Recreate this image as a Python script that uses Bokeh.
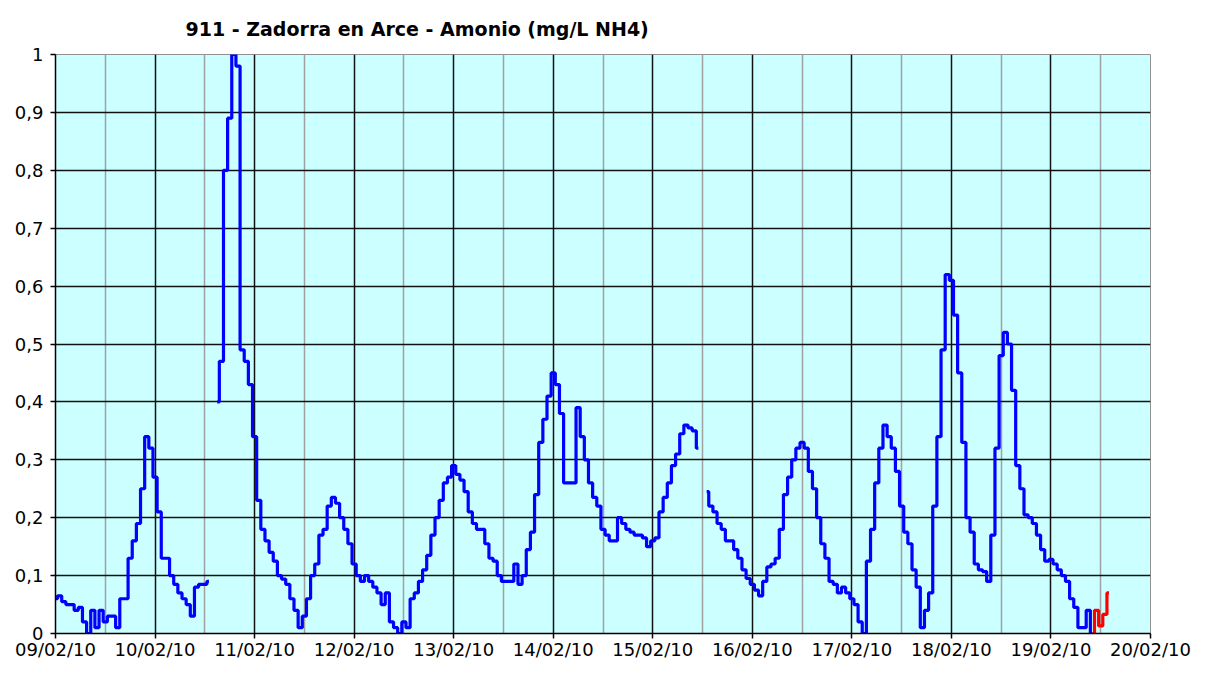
import numpy as np
from bokeh.plotting import figure
from bokeh.models import FixedTicker, Range1d, Title
from bokeh.embed import file_html
from bokeh.resources import INLINE

TITLE = "911 - Zadorra en Arce - Amonio (mg/L NH4)"

# x tick labels, one per day (x axis in days from 09/02/10 00:00)
day_labels = ["09/02/10", "10/02/10", "11/02/10", "12/02/10", "13/02/10", "14/02/10",
              "15/02/10", "16/02/10", "17/02/10", "18/02/10", "19/02/10", "20/02/10"]
y_ticks = [0, 0.1, 0.2, 0.3, 0.4, 0.5, 0.6, 0.7, 0.8, 0.9, 1]
y_labels = ["0", "0,1", "0,2", "0,3", "0,4", "0,5", "0,6", "0,7", "0,8", "0,9", "1"]

# hourly ammonium readings (mg/L NH4) starting 09/02/10 00:00; None = gap
blue_values = [
    # 09/02
    0.06, 0.065, 0.055, 0.05, 0.05, 0.04, 0.045, 0.02, 0.0, 0.04, 0.01, 0.04,
    0.02, 0.03, 0.03, 0.01, 0.06, 0.06, 0.13, 0.16, 0.19, 0.25, 0.34, 0.32,
    # 10/02
    0.27, 0.21, 0.13, 0.13, 0.10, 0.085, 0.07, 0.06, 0.05, 0.03, 0.08, 0.085,
    0.085, 0.09, None, 0.40, 0.47, 0.80, 0.89, 1.0, 0.98, 0.49, 0.47, 0.43,
    # 11/02
    0.34, 0.23, 0.18, 0.16, 0.14, 0.125, 0.10, 0.094, 0.085, 0.06, 0.04, 0.01,
    0.03, 0.06, 0.10, 0.12, 0.17, 0.18, 0.22, 0.235, 0.225, 0.20, 0.18, 0.155,
    # 12/02
    0.12, 0.10, 0.09, 0.10, 0.09, 0.08, 0.07, 0.05, 0.07, 0.02, 0.01, 0.0,
    0.02, 0.01, 0.06, 0.07, 0.09, 0.11, 0.135, 0.17, 0.20, 0.23, 0.26, 0.27,
    # 13/02
    0.29, 0.275, 0.265, 0.245, 0.21, 0.19, 0.18, 0.18, 0.155, 0.13, 0.125, 0.10,
    0.09, 0.09, 0.09, 0.12, 0.085, 0.10, 0.145, 0.175, 0.24, 0.33, 0.37, 0.41,
    # 14/02
    0.45, 0.43, 0.38, 0.26, 0.26, 0.26, 0.39, 0.34, 0.30, 0.26, 0.235, 0.22,
    0.18, 0.17, 0.16, 0.16, 0.20, 0.19, 0.18, 0.175, 0.17, 0.17, 0.165, 0.15,
    # 15/02
    0.16, 0.165, 0.21, 0.235, 0.26, 0.29, 0.31, 0.345, 0.36, 0.355, 0.35, 0.32,
    None, 0.245, 0.22, 0.21, 0.19, 0.18, 0.16, 0.16, 0.145, 0.13, 0.11, 0.095,
    # 16/02
    0.085, 0.075, 0.065, 0.09, 0.115, 0.12, 0.13, 0.18, 0.24, 0.27, 0.30, 0.32,
    0.33, 0.32, 0.28, 0.25, 0.20, 0.155, 0.13, 0.09, 0.085, 0.07, 0.08, 0.07,
    # 17/02
    0.06, 0.05, 0.02, 0.0, 0.125, 0.18, 0.26, 0.32, 0.36, 0.34, 0.32, 0.28,
    0.22, 0.175, 0.155, 0.11, 0.08, 0.01, 0.04, 0.07, 0.22, 0.34, 0.49, 0.62,
    # 18/02
    0.61, 0.55, 0.45, 0.33, 0.20, 0.175, 0.12, 0.11, 0.107, 0.09, 0.17, 0.32,
    0.48, 0.52, 0.50, 0.42, 0.29, 0.25, 0.205, 0.20, 0.19, 0.17, 0.145, 0.125,
    # 19/02
    0.128, 0.12, 0.11, 0.10, 0.09, 0.06, 0.045, 0.01, 0.01, 0.04, 0.0,
]
# last readings (shown in red), hourly from hour 250
red_start_hour = 250
red_values = [0.0, 0.04, 0.013, 0.033, 0.07]

blue_y = np.array(blue_values, dtype=float)
blue_x = np.arange(len(blue_y)) / 24.0
red_y = np.array(red_values, dtype=float)
red_x = (red_start_hour + np.arange(len(red_y))) / 24.0

n_days = len(day_labels) - 1
day_ticks = list(range(len(day_labels)))
half_ticks = [d + 0.5 for d in range(n_days)]

FONT = "DejaVu Sans"

p = figure(width=1191, height=662, output_backend="svg", toolbar_location=None,
           x_range=Range1d(0, n_days), y_range=Range1d(0, 1),
           min_border_left=55, min_border_right=41, min_border_top=54, min_border_bottom=29)

p.add_layout(Title(text=TITLE, align="left", offset=130, standoff=26, vertical_align="top",
                   text_font=FONT, text_font_size="19px", text_font_style="bold",
                   text_color="black"), "above")

p.background_fill_color = "#CCFFFF"
p.border_fill_color = "white"
p.outline_line_color = "#909090"
p.outline_line_width = 1

# x axis
p.xaxis.ticker = FixedTicker(ticks=day_ticks, minor_ticks=half_ticks)
p.xaxis.major_label_overrides = {d: lbl for d, lbl in zip(day_ticks, day_labels)}
p.xaxis.major_tick_out = 5
p.xaxis.major_tick_in = 0
p.xaxis.minor_tick_out = 0
p.xaxis.minor_tick_in = 0
p.xaxis.major_label_standoff = 0

# y axis
p.yaxis.ticker = FixedTicker(ticks=y_ticks)
p.yaxis.major_label_overrides = {t: lbl for t, lbl in zip(y_ticks, y_labels)}
p.yaxis.major_tick_out = 5
p.yaxis.major_tick_in = 0
p.yaxis.minor_tick_out = 0
p.yaxis.minor_tick_in = 0
p.yaxis.major_label_standoff = 7

for ax in (p.xaxis, p.yaxis):
    ax.axis_line_color = "black"
    ax.axis_line_width = 1.5
    ax.major_tick_line_color = "black"
    ax.major_tick_line_width = 1.5
    ax.major_label_text_font = FONT
    ax.major_label_text_font_size = "18px"
    ax.major_label_text_color = "black"

# grids
p.xgrid.ticker = FixedTicker(ticks=day_ticks[1:-1], minor_ticks=half_ticks)
p.xgrid.grid_line_color = "#111111"
p.xgrid.grid_line_width = 1.5
p.xgrid.minor_grid_line_color = "#A0A0A0"
p.xgrid.minor_grid_line_width = 1.5
p.ygrid.ticker = FixedTicker(ticks=y_ticks[1:-1])
p.ygrid.grid_line_color = "#111111"
p.ygrid.grid_line_width = 1.5

p.step(blue_x, blue_y, mode="center", line_color="#0000FF", line_width=3.2)
p.step(red_x, red_y, mode="center", line_color="#FF0000", line_width=3.2)

open("out.html", "w").write(file_html(p, INLINE))
